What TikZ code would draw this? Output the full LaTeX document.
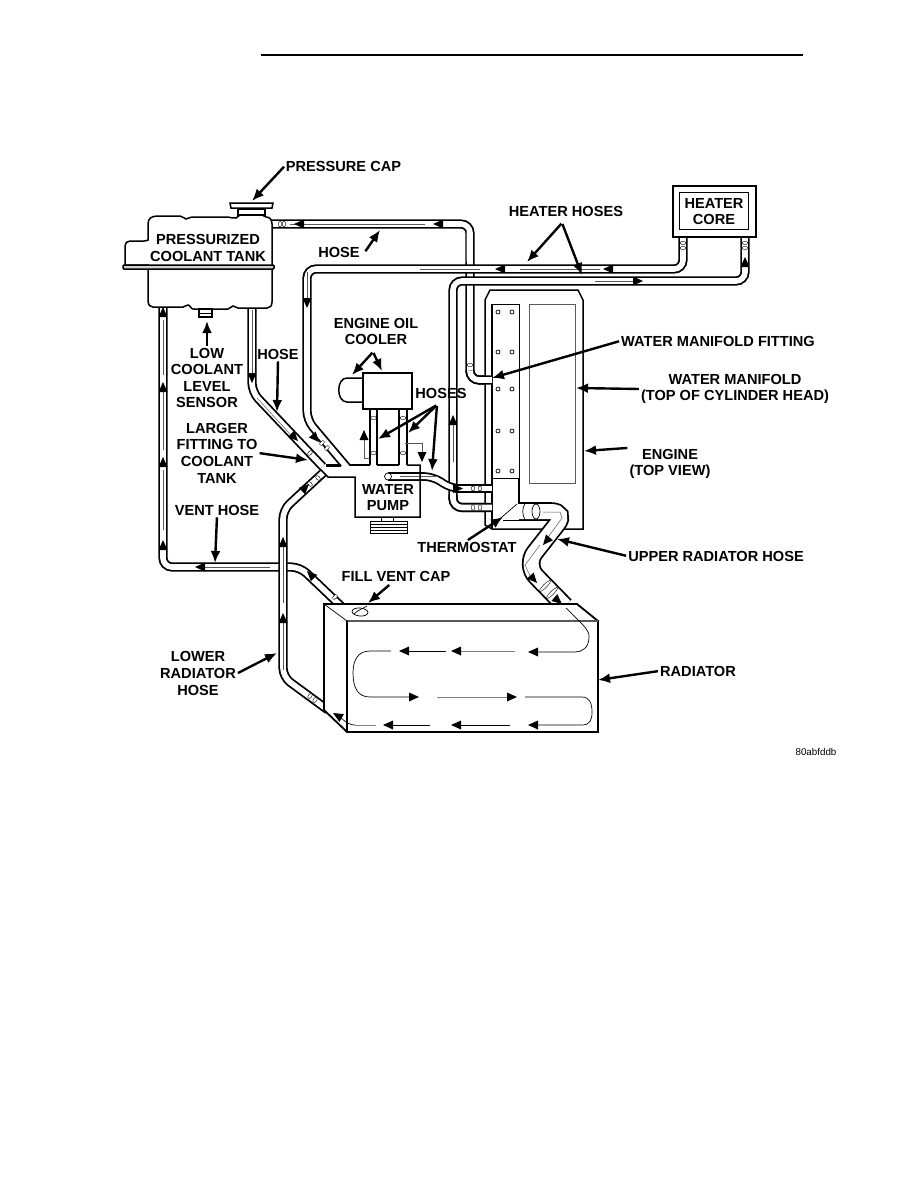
\documentclass[tikz,border=0pt]{standalone}
\usepackage{fontspec}
\setmainfont{Liberation Sans}
\usepackage{tikz}
\usetikzlibrary{arrows.meta,calc}
\newcommand{\flowtip}[2]{\fill[shift={(#1)},rotate=#2] (0,0)--(-10,4.5)--(-10,-4.5)--cycle;}
\newcommand{\hoseclamp}[3]{\draw[thin,fill=white,shift={(#1)},rotate=#2] (0,0) ellipse (1.8 and #3);}
\tikzset{
	lbl/.style={font=\fontsize{14.6}{16.6}\selectfont\bfseries,align=center,inner sep=1pt},
	leader/.style={line width=2.4,-{Latex[length=12pt,width=10pt]},shorten <=1},
	hose/.style={line width=1.8,double=white,double distance=5.6,rounded corners=9},
	wide hose/.style={line width=1.8,double=white,double distance=15,rounded corners=16},
	wall/.style={line width=1.5},
	flowline/.style={line width=.5,gray!70!black},
	tube/.style={line width=.7}
}
\begin{document}
\begin{tikzpicture}[x=1pt,y=-1pt]
	\useasboundingbox (0,0) rectangle (918,1188);
	\draw[line width=2] (261,55)--(803,55);

	% hoses, back to front
	\draw[hose] (270,224)--(470,224)--(470,380)--(492,380);
	\draw[hose] (163,305)--(163,567)--(300,567)--(343,608);
	\draw[hose] (252,305)--(252,392)--(322.5,466.5);
	\draw[hose] (683,237)--(683,269)--(307,269)--(307,420)--(347,467.4);
	\draw[hose] (745,237)--(745,281)--(453,281)--(453,507.5)--(492,507.5);
	\draw[hose] (328,710)--(283,677)--(283,510)--(323.5,472.5);
	\draw[hose,double distance=5] (388,476.5)--(433,476.5)--(451,488.5)--(492,488.5);
	\draw[hose] (373.5,409)--(373.5,465);
	\draw[hose] (403,409)--(403,465);
	\fill[white] (338,466.2) rectangle (352,472);
	\draw[tube,fill=white] (388,476.5) ellipse (3.5 and 3.5);

	% thin lines along the hoses
	\draw[flowline] (290,224)--(425,224);
	\draw[flowline] (466,230)--(466,262);
	\draw[flowline] (252,310)--(252,375);
	\draw[flowline] (257,398)--(290,434);
	\draw[flowline] (307,272)--(307,300);
	\draw[flowline] (480,269)--(420,269) (520,269)--(600,269);
	\draw[flowline] (595,281)--(635,281);
	\draw[flowline] (453,420)--(453,462);
	\draw[flowline] (163,320)--(163,375) (163,392)--(163,450) (163,470)--(163,530);
	\draw[flowline] (205,567)--(270,567);
	\draw[flowline] (283,545)--(283,603) (283,620)--(283,670);
	\draw[flowline] (438,476.5)--(400,476.5);

	% clamps
	\hoseclamp{280,224}{0}{2.8}
	\hoseclamp{284,224}{0}{2.8}
	\hoseclamp{470,365}{90}{2.8}
	\hoseclamp{373.5,418}{90}{2.8}
	\hoseclamp{373.5,453}{90}{2.8}
	\hoseclamp{403,418}{90}{2.8}
	\hoseclamp{403,453}{90}{2.8}
	\hoseclamp{683,243}{90}{2.8}
	\hoseclamp{683,248}{90}{2.8}
	\hoseclamp{745,243}{90}{2.8}
	\hoseclamp{745,248}{90}{2.8}
	\hoseclamp{310,453}{-45}{2.8}
	\hoseclamp{322,443}{-45}{2.8}
	\hoseclamp{327,448}{-45}{2.8}
	\hoseclamp{310,484}{45}{2.8}
	\hoseclamp{318,478}{45}{2.8}
	\hoseclamp{310,696}{-36}{2.8}
	\hoseclamp{315,700}{-36}{2.8}
	\hoseclamp{335,597}{-45}{2.8}

	% coolant tank and cap
	\draw[wall,fill=white] (238,215)--(238,209)--(265,209)--(265,215)--cycle;
	\draw[wall,fill=white] (230,203)--(273,203)--(272,208)--(231,208)--cycle;
	\draw[wall,fill=white] (148,240)--(148,224) .. controls (148,218) and (152,216) .. (158,216)
		--(180,216) .. controls (183,216) and (184,219) .. (186,219) .. controls (188,219) and (189,217) .. (192,217)
		--(228,217) .. controls (231,217) and (233,219) .. (236,218) .. controls (238,218) and (238,215) .. (240,215)
		--(262,215) .. controls (264,215) and (264,217) .. (266,217) .. controls (270,217) and (272,220) .. (272,224)
		--(272,302) .. controls (272,306) and (270,308) .. (267,308)
		--(238,308) .. controls (236,308) and (235,306) .. (233,306) .. controls (231,306) and (230,309) .. (228,309)
		--(193,309) .. controls (191,309) and (190,305) .. (188,305) .. controls (186,305) and (185,307) .. (183,307)
		--(153,307) .. controls (150,307) and (148,305) .. (148,302)
		--(148,265)--(125,265)--(125,246) .. controls (125,243) and (127,241) .. (130,241)
		--(144,241) .. controls (146,241) and (148,240) .. (148,240)--cycle;
	\draw[wall,fill=gray!35,rounded corners=1] (123,265) rectangle (274,269);
	\draw[wall,fill=white] (199,309) rectangle (212,317);
	\draw[tube] (199,313)--(212,313);

	% oil cooler and water pump
	\draw[wall,fill=white] (363,378)--(347,378) .. controls (336,378) and (336,402) .. (347,402)--(363,402)--cycle;
	\draw[wall,fill=white] (363,373) rectangle (412,409);
	\draw[wall] (349,465)--(370,465) (377,465)--(399,465);
	\draw[wall] (407,465)--(420,465)--(420,517)--(355,517)--(355,477)--(328,477)--(320,469);
	\draw[line width=2.4] (326,465.5)--(341,465.5);
	\draw[tube,fill=white] (370,521) rectangle (407,533);
	\foreach \stripe in {524,527,530} {
		\draw[tube] (370,\stripe)--(407,\stripe);
	}
	\draw[tube] (381,517)--(381,521) (393,517)--(393,521);
	\draw[flowline] (370,458)--(364,458)--(364,438);
	\draw[flowline] (405,443)--(422,443)--(422,452);

	% engine with manifold and thermostat housing
	\draw[wall,fill=white] (485,300)--(490,290)--(578,290)--(583,300)--(583,529)--(492,529)--(485,525)--cycle;
	\draw[wall] (492,304)--(492,529);
	\draw[line width=1] (492,304)--(519,304)--(519,478);
	\draw[line width=1] (492,478)--(519,478);
	\draw[wall] (519,478)--(519,504);
	\draw[flowline] (529,304) rectangle (575,483);
	\foreach \rowy in {312,352,389,431,471} {
		\draw[tube] (498,\rowy) circle (2);
		\draw[tube] (512,\rowy) circle (2);
	}
	\draw[hose] (470,372)--(470,380)--(492,380);
	\draw[hose] (453,495)--(453,507.5)--(492,507.5);
	\draw[hose,double distance=5] (455,488.5)--(492,488.5);
	\hoseclamp{473,488.5}{0}{2.5}
	\hoseclamp{480,488.5}{0}{2.5}
	\hoseclamp{473,507.5}{0}{2.8}
	\hoseclamp{480,507.5}{0}{2.8}
	\draw[wide hose] (519,511.5)--(567,511.5)--(525,565)--(565,606);
	\draw[line width=1.8] (503,520.5)--(520,520.5);
	\draw[tube] (495,523)--(517,504);
	\draw[tube,fill=white] (536,511.5) ellipse (4 and 7.5);
	\draw[tube] (525,503.5) .. controls (522,508) and (522,515) .. (525,519.5);
	\draw[flowline] (543,512)--(560,512)--(562,518)--(546,540);
	\draw[flowline] (540,545)--(525,565)--(531,578);
	\hoseclamp{545,586}{-45}{7.5}
	\hoseclamp{552,593}{-45}{7.5}

	% radiator
	\draw[line width=1.8,fill=white] (324,604)--(577,604)--(598,621)--(598,732)--(347,732)--(324,710)--cycle;
	\draw[line width=1.8,gray!70!black] (347,621)--(598,621);
	\draw[line width=1.8] (347,621)--(347,732);
	\draw[tube] (347,621)--(324,604);
	\draw[tube,rotate around={-5:(360,612)}] (360,612) ellipse (8 and 4);
	\draw[tube] (354,614) .. controls (358,610) and (362,609) .. (367,606);
	\draw[tube] (566,608) .. controls (580,622) and (590,630) .. (589,637)
		.. controls (589,648) and (582,652) .. (575,652)--(538,652);
	\draw[line width=1,gray] (515,651)--(461,651);
	\draw[tube] (446,651)--(409,651);
	\draw[tube] (391,651)--(370,651) .. controls (358,651) and (353,660) .. (353,673)
		.. controls (353,688) and (358,697) .. (370,697)--(409,697);
	\draw[line width=1,gray] (437,697)--(507,697);
	\draw[tube] (525,697)--(582,697) .. controls (590,697) and (592,704) .. (592,712)
		.. controls (592,720) and (590,725) .. (582,725)--(538,725);
	\draw[tube] (510,725)--(461,725);
	\draw[tube] (430,725)--(393,725);
	\draw[line width=1,gray] (376,725)--(355,725);
	\draw[tube] (355,725) .. controls (350,725) and (347,723) .. (341,718);
	\flowtip{528,652}{180}
	\flowtip{451,651}{180}
	\flowtip{399,651}{180}
	\flowtip{419,697}{0}
	\flowtip{517,697}{0}
	\flowtip{528,725}{180}
	\flowtip{451,725}{180}
	\flowtip{383,725}{180}
	\flowtip{333,713}{150}

	% heater core
	\draw[line width=1.8,fill=white] (673,186) rectangle (756,237);
	\draw[tube] (679,192) rectangle (748,229);

	% flow direction in the hoses
	\flowtip{294,224}{180}
	\flowtip{433,224}{180}
	\flowtip{307,308}{270}
	\flowtip{319,442}{-48}
	\flowtip{252,383}{270}
	\flowtip{298,441}{-46}
	\flowtip{163,307}{90}
	\flowtip{163,382}{90}
	\flowtip{163,457}{90}
	\flowtip{163,540}{90}
	\flowtip{195,567}{180}
	\flowtip{283,537}{90}
	\flowtip{283,613}{90}
	\flowtip{309,484}{45}
	\flowtip{307,571}{135}
	\flowtip{495,269}{180}
	\flowtip{603,269}{180}
	\flowtip{643,281}{0}
	\flowtip{745,257}{90}
	\flowtip{453,415}{90}
	\flowtip{463,488.5}{0}
	\flowtip{364,430}{90}
	\flowtip{422,462}{270}
	\flowtip{543,545}{-130}
	\flowtip{537,583}{-48}
	\flowtip{562,604}{-40}

	% labels
	\node[lbl] (capLbl) at (343.5,166) {PRESSURE CAP};
	\node[lbl] (tankLbl) at (208,248) {PRESSURIZED\\COOLANT TANK};
	\node[lbl] (topHoseLbl) at (339,252) {HOSE};
	\node[lbl] (heaterHoseLbl) at (566,211) {HEATER HOSES};
	\node[lbl] (coreLbl) at (714,211.5) {HEATER\\CORE};
	\node[lbl] (coolerLbl) at (376,331.5) {ENGINE OIL\\COOLER};
	\node[lbl] (sensorLbl) at (207,378) {LOW\\COOLANT\\LEVEL\\SENSOR};
	\node[lbl] (tankHoseLbl) at (278,354) {HOSE};
	\node[lbl] (hosesLbl) at (441,393) {HOSES};
	\node[lbl] (fittingLbl) at (217,453) {LARGER\\FITTING TO\\COOLANT\\TANK};
	\node[lbl] (ventLbl) at (217,510) {VENT HOSE};
	\node[lbl] (pumpLbl) at (388,497.5) {WATER\\PUMP};
	\node[lbl] (thermoLbl) at (467,547) {THERMOSTAT};
	\node[lbl] (capVentLbl) at (396,576) {FILL VENT CAP};
	\node[lbl] (lowerLbl) at (198,673.5) {LOWER\\RADIATOR\\HOSE};
	\node[lbl] (radLbl) at (698,671) {RADIATOR};
	\node[lbl] (upperLbl) at (716,556) {UPPER RADIATOR HOSE};
	\node[lbl] (engineLbl) at (670,464) {ENGINE\\(TOP VIEW)};
	\node[lbl] (manifoldLbl) at (735,389) {WATER MANIFOLD\\(TOP OF CYLINDER HEAD)};
	\node[lbl] (manFitLbl) at (718,341) {WATER MANIFOLD FITTING};
	\node[inner sep=1pt,font=\fontsize{9.8}{11}\selectfont] (codeLbl) at (816,752) {80abfddb};

	% leader ends
	\coordinate (capTip) at (252,201);
	\coordinate (topHoseTip) at (380,230);
	\coordinate (heaterTipA) at (527,262);
	\coordinate (heaterTipB) at (582,275);
	\coordinate (coolerTipA) at (352,375);
	\coordinate (coolerTipB) at (382,371);
	\coordinate (coolerFork) at (373,352);
	\coordinate (heaterFork) at (562,223);
	\coordinate (hosesFork) at (437,405);
	\coordinate (hosesTipA) at (378,439);
	\coordinate (hosesTipB) at (408,433);
	\coordinate (hosesTipC) at (432,471);
	\coordinate (sensorTip) at (207,321);
	\coordinate (tankHoseTip) at (277,412);
	\coordinate (fittingTip) at (308,460);
	\coordinate (ventTip) at (215,563);
	\coordinate (thermoTip) at (503,517);
	\coordinate (capVentTip) at (368,603);
	\coordinate (lowerTip) at (277,653);
	\coordinate (radTip) at (598,680);
	\coordinate (upperTip) at (557,539);
	\coordinate (engineTip) at (584,451);
	\coordinate (manifoldTip) at (576,388);
	\coordinate (manFitTip) at (492,378);

	\draw[leader] (capLbl.west)--(capTip);
	\draw[leader] (topHoseLbl.east)+(4,0) -- (topHoseTip);
	\draw[leader] (heaterFork)--(heaterTipA);
	\draw[leader] (heaterFork)--(heaterTipB);
	\draw[leader] (coolerFork)--(coolerTipA);
	\draw[leader] (coolerFork)--(coolerTipB);
	\draw[leader] (hosesFork)--(hosesTipA);
	\draw[leader] (hosesFork)--(hosesTipB);
	\draw[leader] (hosesFork)--(hosesTipC);
	\draw[leader] (sensorLbl.north)--(sensorTip);
	\draw[leader] (tankHoseLbl.south)--(tankHoseTip);
	\draw[leader] (fittingLbl.east)--(fittingTip);
	\draw[leader] (ventLbl.south)--(ventTip);
	\draw[leader] (thermoLbl.north)--(thermoTip);
	\draw[leader] (capVentLbl.south)+(-6,2) -- (capVentTip);
	\draw[leader] (lowerLbl.east)--(lowerTip);
	\draw[leader] (radLbl.west)--(radTip);
	\draw[leader] (upperLbl.west)--(upperTip);
	\draw[leader] (engineLbl.north west)--(engineTip);
	\draw[leader] (manifoldLbl.west)--(manifoldTip);
	\draw[leader] (manFitLbl.west)--(manFitTip);
\end{tikzpicture}
\end{document}
